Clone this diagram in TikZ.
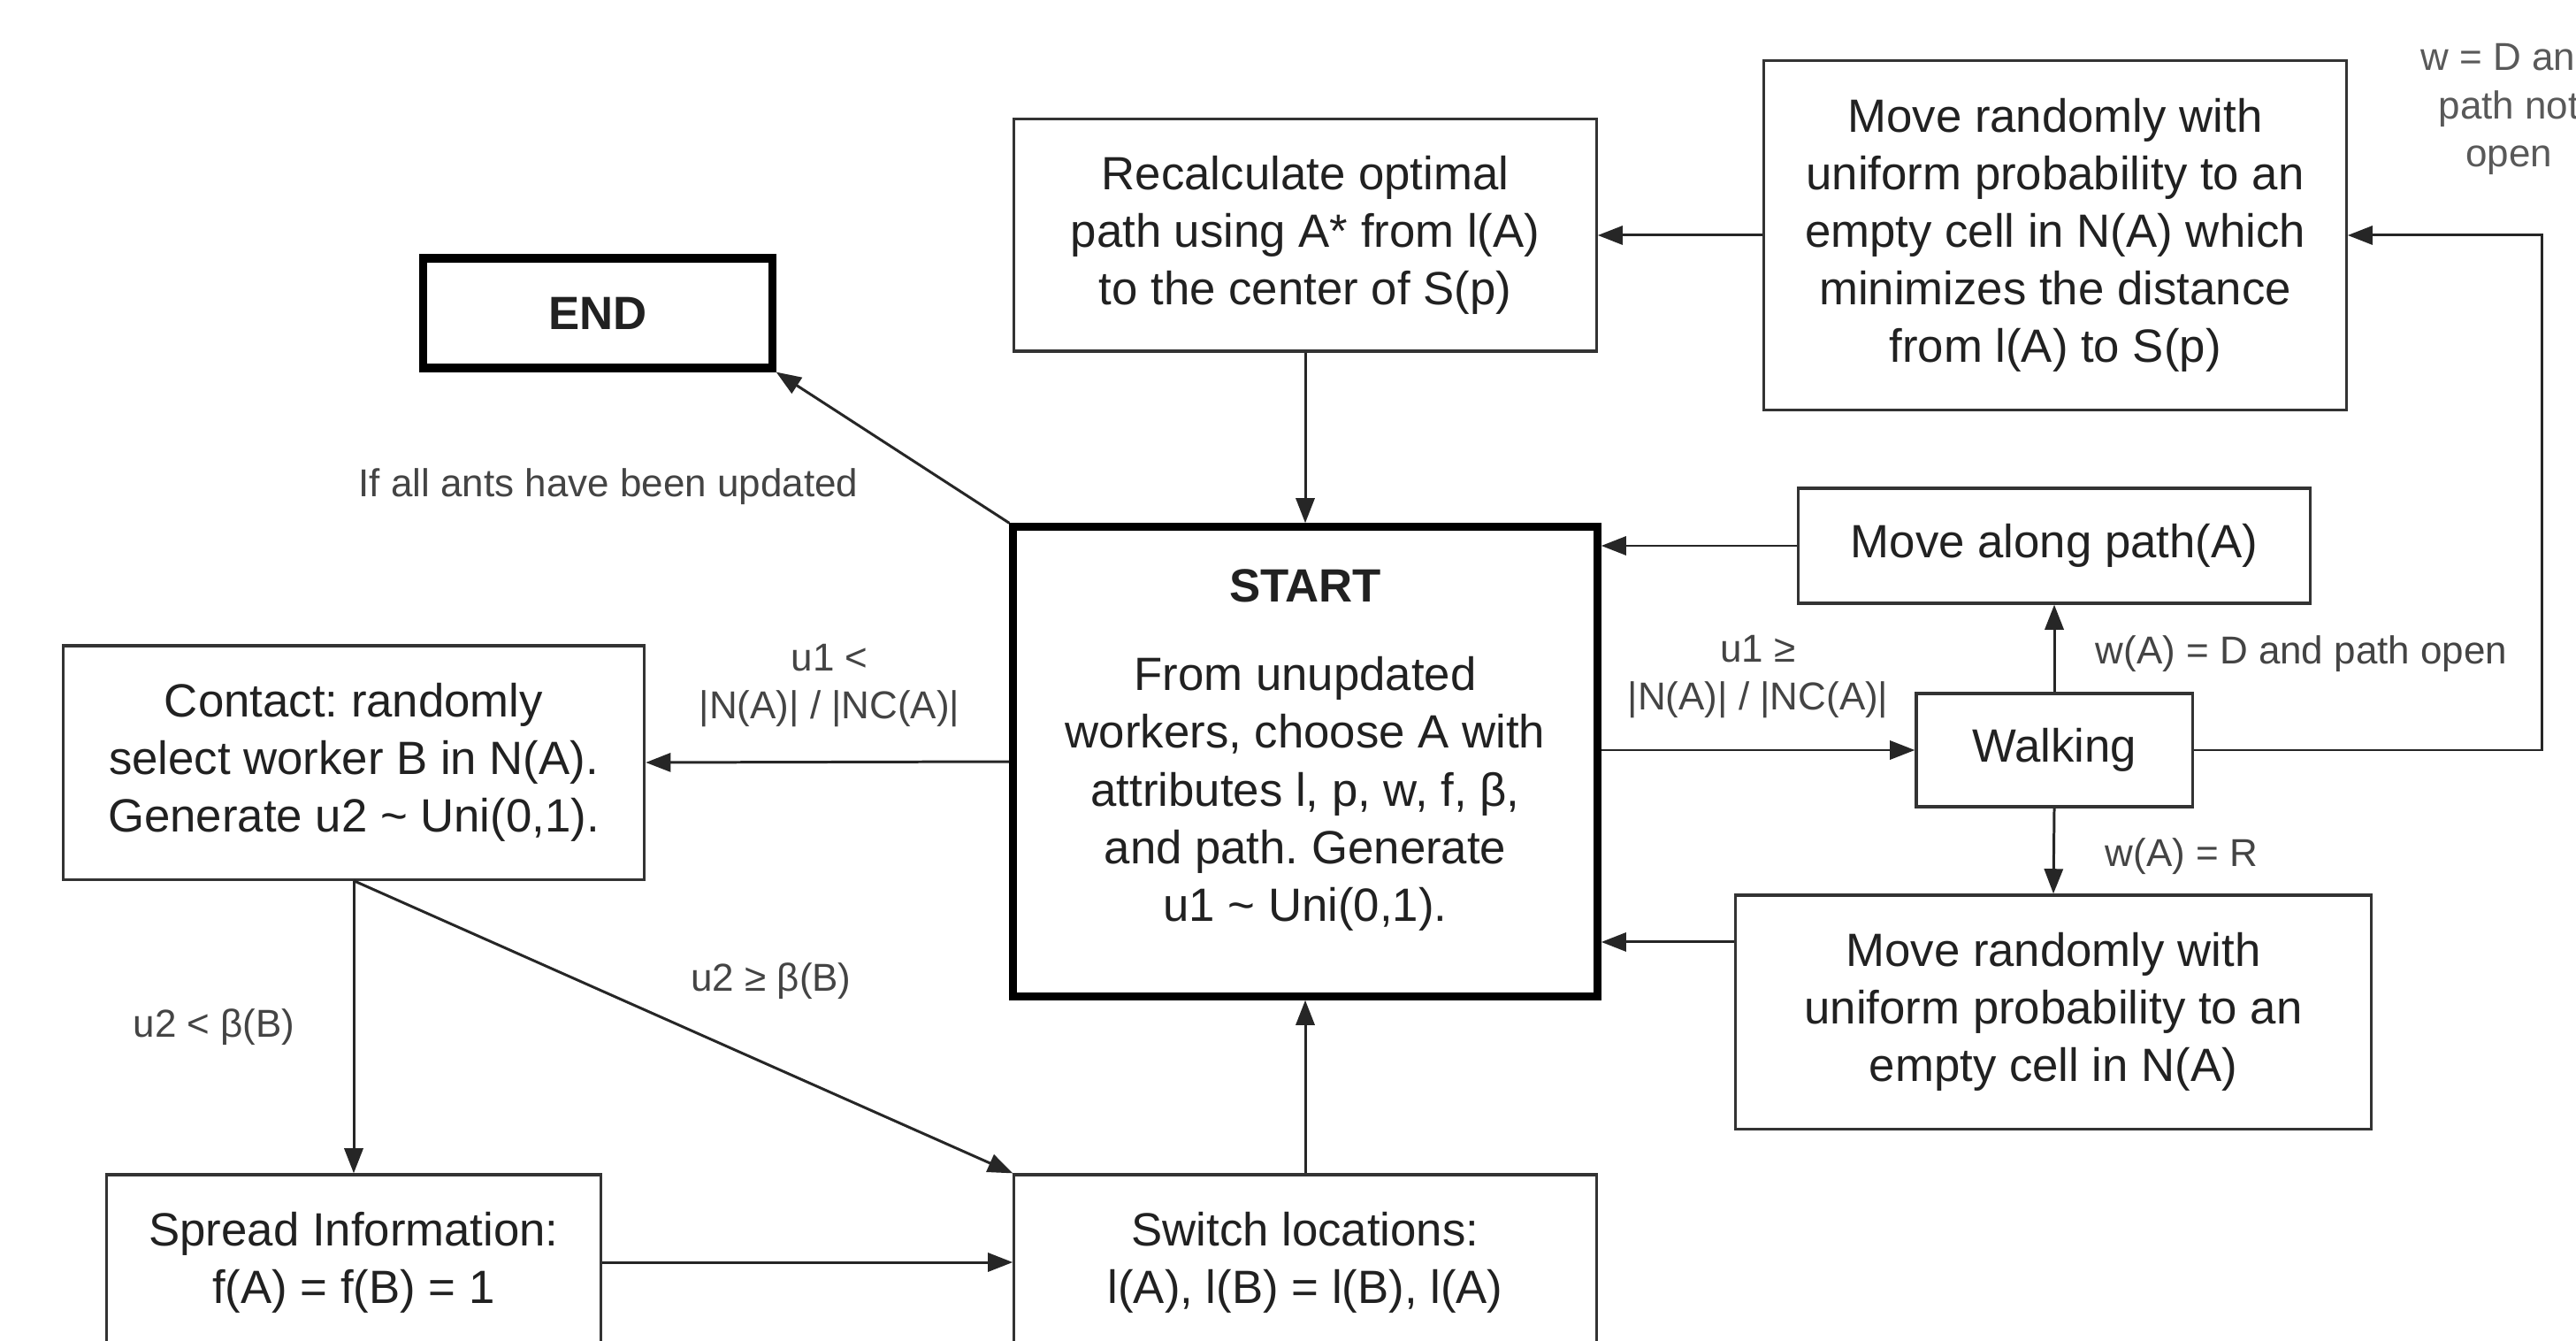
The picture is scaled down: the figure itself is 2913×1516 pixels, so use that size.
\documentclass[tikz,border=0pt]{standalone}
\usepackage{fontspec}
\setmainfont{Liberation Sans}
\usetikzlibrary{arrows.meta}
\frenchspacing

\definecolor{boxline}{HTML}{333333}
\definecolor{labeltext}{HTML}{444444}
\tikzset{
  box/.style={draw=boxline, line width=0.9pt, align=center, text=black!87,
    font=\fontsize{15}{18.5}\selectfont, inner sep=0pt},
  bigbox/.style={box, draw=black, line width=2.6pt},
  boxtext/.style={align=center, text=black!87, font=\fontsize{15}{18.5}\selectfont, inner sep=0pt},
  cond/.style={align=center, text=labeltext, font=\fontsize{12.5}{15.5}\selectfont, inner sep=0pt},
  arr/.style={draw=black!85, line width=0.85pt, -{Triangle[length=8pt,width=6pt]}}
}

\begin{document}
\begin{tikzpicture}[x=0.01cm,y=-0.01cm]
  \clip (0,0) rectangle (2913,1516);
  \fill[white] (0,0) rectangle (2913,1516);

  %draw boxes
  \node[box, minimum width=6.58cm, minimum height=2.62cm] (recalc) at (1476,266)
    {Recalculate optimal\\path using A* from l(A)\\to the center of S(p)};
  \node[box, minimum width=6.58cm, minimum height=3.94cm] (moveopt) at (2324,266)
    {Move randomly with\\uniform probability to an\\empty cell in N(A) which\\minimizes the distance\\from l(A) to S(p)};
  \node[bigbox, minimum width=3.94cm, minimum height=1.24cm,
    font=\fontsize{15}{18.5}\selectfont\bfseries] (finish) at (676,354) {END};
  \node[bigbox, minimum width=6.6cm, minimum height=5.3cm] (start) at (1476,861) {};
  \node[boxtext] (starttext) at (1476,848)
    {\textbf{START}\\[0.35cm]From unupdated\\workers, choose A with\\attributes l, p, w, f, β,\\and path. Generate\\u1 \textasciitilde{} Uni(0,1).};
  \node[box, minimum width=5.78cm, minimum height=1.3cm] (along) at (2323,617)
    {Move along path(A)};
  \node[box, minimum width=3.12cm, minimum height=1.28cm] (walking) at (2323,848)
    {Walking};
  \node[box, minimum width=7.19cm, minimum height=2.64cm] (randmove) at (2322,1144)
    {Move randomly with\\uniform probability to an\\empty cell in N(A)};
  \node[box, minimum width=6.57cm, minimum height=2.64cm] (contact) at (400,862)
    {Contact: randomly\\select worker B in N(A).\\Generate u2 \textasciitilde{} Uni(0,1).};
  \node[box, minimum width=5.59cm, minimum height=1.98cm] (spread) at (400,1427)
    {Spread Information:\\f(A) = f(B) = 1};
  \node[box, minimum width=6.58cm, minimum height=1.98cm] (switch) at (1476,1427)
    {Switch locations:\\l(A), l(B) = l(B), l(A)};

  %draw arrows
  \draw[arr] (moveopt.west) -- (recalc.east);
  \draw[arr] (recalc.south) -- (start.north);
  \draw[arr] (start.north west) -- (finish.south east);
  \draw[arr] (along.west) -- (along.west -| start.east);
  \draw[arr] (start.east |- walking.west) -- (walking.west);
  \draw[arr] (walking.north) -- (along.south);
  \draw[arr] (walking.south) -- (randmove.north);
  \coordinate (rm) at ([yshift=0.79cm]randmove.west);
  \draw[arr] (rm) -- (rm -| start.east);
  \coordinate (loop) at (2874,266);
  \draw[arr] (walking.east) -| (loop) -- (moveopt.east);
  \draw[arr] (start.west) -- (contact.east);
  \draw[arr] (contact.south) -- (spread.north);
  \draw[arr] (contact.south) -- (switch.north west);
  \draw[arr] (spread.east) -- (switch.west);
  \draw[arr] (switch.north) -- (start.south);

  %draw labels
  \node[cond] (lblend) at (688,550) {If all ants have been updated};
  \node[cond] (lblcontact) at (938,775) {u1 <\\|N(A)| / |NC(A)|};
  \node[cond] (lblwalk) at (1988,765) {u1 ≥\\|N(A)| / |NC(A)|};
  \node[cond, anchor=west] (lblopen) at (2369,739) {w(A) = D and path open};
  \node[cond, anchor=west] (lblrand) at (2380,968) {w(A) = R};
  \node[cond] (lblswitch) at (872,1109) {u2 ≥ β(B)};
  \node[cond] (lblspread) at (242,1161) {u2 < β(B)};
  \node[cond, text=black!65] (lblclosed) at (2837,123) {w = D and\\path not\\open};
\end{tikzpicture}
\end{document}
